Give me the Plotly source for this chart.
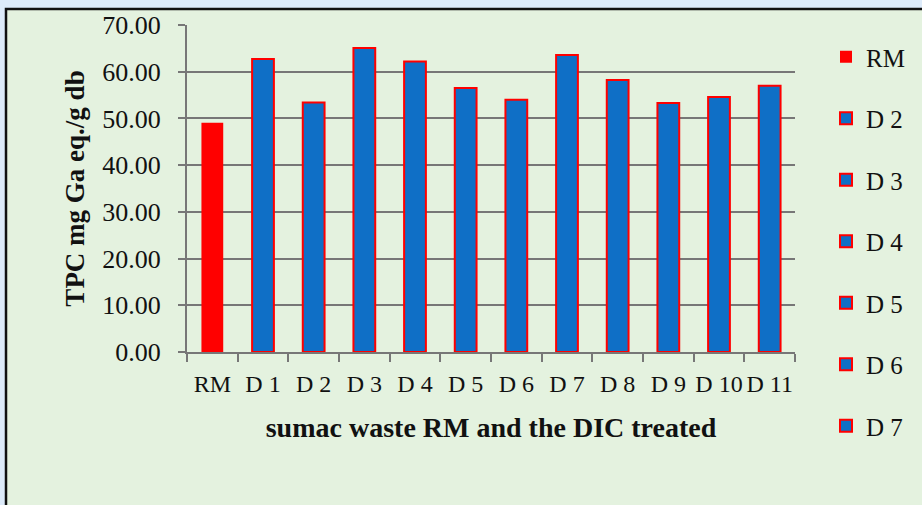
import plotly.graph_objects as go

# TPC values for the raw material and the DIC-treated samples
categories = ["RM", "D 1", "D 2", "D 3", "D 4", "D 5", "D 6", "D 7", "D 8", "D 9", "D 10", "D 11"]
tpc_values = [49.1, 62.7, 53.4, 65.1, 62.2, 56.5, 54.0, 63.6, 58.2, 53.3, 54.6, 57.0]
legend_shown = ["RM", "D 2", "D 3", "D 4", "D 5", "D 6", "D 7"]

y_ticks = [0, 10, 20, 30, 40, 50, 60, 70]

FONT = "Liberation Serif"
RED = "#FF0000"
BLUE = "#0F6FC6"
GRID = "#777777"
GREEN_BG = "#E4F2DF"

W, H = 922, 505
L, R, T, B = 187, 127, 25, 153
PW, PH = W - L - R, H - T - B


def px_x(px):
    return (px - L) / PW


def px_y(py):
    return (H - B - py) / PH


fig = go.Figure()
for i, (cat, val) in enumerate(zip(categories, tpc_values)):
    is_rm = cat == "RM"
    fig.add_trace(go.Bar(
        x=[cat], y=[val], name=cat,
        width=0.43,
        marker=dict(color=RED if is_rm else BLUE,
                    line=dict(color=RED, width=0 if is_rm else 2)),
        showlegend=cat in legend_shown,
        legendgroup=f"g{i}",
    ))

# framed panel background
fig.add_shape(type="rect", xref="paper", yref="paper",
              x0=px_x(6), x1=px_x(940), y0=px_y(9), y1=px_y(520),
              fillcolor=GREEN_BG, line=dict(color="#111111", width=2.5),
              layer="below")

fig.update_layout(
    width=W, height=H,
    margin=dict(l=L, r=R, t=T, b=B),
    paper_bgcolor="#DDEBFA",
    plot_bgcolor="rgba(0,0,0,0)",
    barmode="overlay",
    font=dict(family=FONT, size=24, color="#111111"),
    showlegend=True,
    legend=dict(
        x=px_x(826), y=px_y(34), xanchor="left", yanchor="top",
        traceorder="grouped", tracegroupgap=26,
        bgcolor="rgba(0,0,0,0)",
        maxheight=470,
        font=dict(family=FONT, size=25, color="#111111"),
    ),
    xaxis=dict(
        categoryorder="array", categoryarray=categories,
        showline=True, linecolor=GRID, linewidth=2,
        ticks="outside", tickson="boundaries", ticklen=8, tickwidth=2, tickcolor=GRID,
        tickangle=0,
        ticklabelstandoff=9,
        tickfont=dict(family=FONT, size=24, color="#111111"),
        title=dict(text="<b>sumac waste RM and the DIC treated</b>",
                   font=dict(family=FONT, size=28, color="#111111"), standoff=22),
        showgrid=False,
    ),
    yaxis=dict(
        range=[0, 70], tickvals=y_ticks, tickformat=".2f",
        showline=True, linecolor=GRID, linewidth=2,
        ticks="outside", ticklen=7, tickwidth=2, tickcolor=GRID,
        showgrid=True, gridcolor=GRID, gridwidth=2,
        zeroline=False,
        tickfont=dict(family=FONT, size=26, color="#111111"),
        ticklabelstandoff=12,
        title=dict(text="<b>TPC mg Ga eq./g db</b>",
                   font=dict(family=FONT, size=27, color="#111111"), standoff=10),
    ),
)

fig.write_html("out.html")
